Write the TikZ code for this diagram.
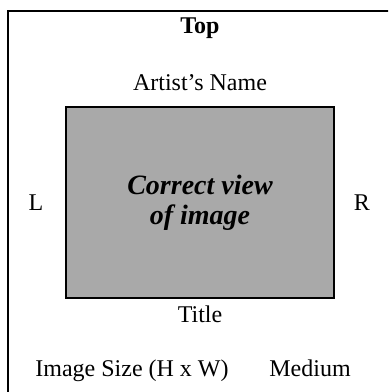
\documentclass[tikz,border=0pt]{standalone}
\usepackage{fontspec}
\setmainfont{Liberation Serif}
\usepackage{xcolor}
\usetikzlibrary{positioning}
\definecolor{mountgray}{HTML}{A9A9A9}

\begin{document}
\begin{tikzpicture}[x=0.5pt, y=-0.5pt,
    lbl/.style={font=\fontsize{12}{14}\selectfont, anchor=base, inner sep=0pt},
    pictbox/.style={draw, line width=1pt, fill=mountgray, inner sep=0pt,
                    minimum width=134pt, minimum height=95.5pt}]
  %% page area, outer frame runs off the right and bottom
  \useasboundingbox (0,0) rectangle (388,392);
  \clip (0,0) rectangle (388,392);
  \draw[line width=1pt] (8,11) rectangle (404,408);

  %% the image itself
  \node[pictbox, align=center, font=\bfseries\itshape\fontsize{14}{15}\selectfont]
    (image) at (200,202.5) {Correct view\\of image};

  %% labels around it
  \node[lbl, font=\bfseries\fontsize{12}{14}\selectfont] (top) at (200,33) {Top};
  \node[lbl] (artist) at (200,90) {Artist's Name};
  \node[lbl] (left)   at (36,210)  {L};
  \node[lbl] (right)  at (362,210) {R};
  \node[lbl] (title)  at (200,322) {Title};
  \node[lbl] (size)   at (132,376) {Image Size (H x W)};
  \node[lbl] (medium) at (310,376) {Medium};
\end{tikzpicture}
\end{document}
